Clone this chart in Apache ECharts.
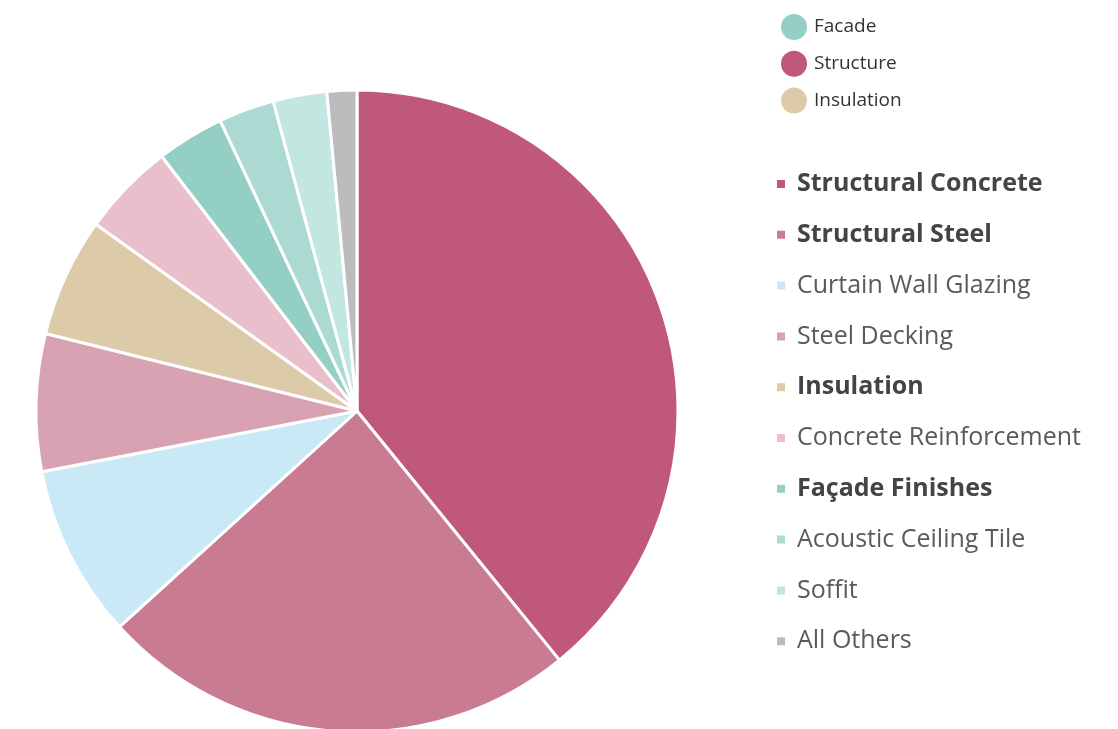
<!DOCTYPE html>
<html>
<head>
<meta charset="utf-8">
<script src="https://cdn.jsdelivr.net/npm/echarts@6/dist/echarts.min.js"></script>
<style>
  html, body { margin: 0; padding: 0; background: #fff; }
  #chart { width: 1118px; height: 729px; }
</style>
</head>
<body>
<div id="chart"></div>
<script>
// Material breakdown (share of total, %)
const materials = [
  'Structural Concrete', 'Structural Steel', 'Curtain Wall Glazing', 'Steel Decking',
  'Insulation', 'Concrete Reinforcement', 'Façade Finishes', 'Acoustic Ceiling Tile',
  'Soffit', 'All Others'
];
const shares = [39.1, 24.1, 8.7, 6.9, 6.0, 4.7, 3.4, 2.8, 2.7, 1.5];
const materialColors = [
  '#c0587a', '#c97b92', '#c9e9f7', '#d9a2b2', '#dccaa8',
  '#e8bfcb', '#94cfc5', '#acdad3', '#c2e6e0', '#bcbcbc'
];
// Headline items are emphasised in the legend
const emphasised = ['Structural Concrete', 'Structural Steel', 'Insulation', 'Façade Finishes'];

// Category groups shown in the upper legend
const groups = ['Facade', 'Structure', 'Insulation '];
const groupLabels = ['Facade', 'Structure', 'Insulation'];
const groupColors = ['#93cfc5', '#c0587a', '#dccaa8'];

const FONT = '"Open Sans", "Noto Sans", sans-serif';

const chart = echarts.init(document.getElementById('chart'), null, { renderer: 'canvas' });

chart.setOption({
  animation: false,
  backgroundColor: '#ffffff',
  legend: [
    {
      orient: 'vertical',
      left: 781,
      top: 14,
      padding: 0,
      icon: 'circle',
      itemWidth: 26,
      itemHeight: 26,
      itemGap: 10.8,
      selectedMode: false,
      data: groups,
      formatter: name => groupLabels[groups.indexOf(name)],
      textStyle: { fontFamily: FONT, fontSize: 19, color: '#333', padding: [0, 0, 0, 2] }
    },
    {
      orient: 'vertical',
      left: 775,
      top: 171,
      padding: 0,
      icon: 'rect',
      itemWidth: 10,
      itemHeight: 10,
      itemGap: 24.8,
      selectedMode: false,
      data: materials.map(name => ({
        name,
        textStyle: emphasised.includes(name)
          ? { fontWeight: 'bold', color: '#444' }
          : { fontWeight: 'normal', color: '#5a5a5a' }
      })),
      textStyle: { fontFamily: FONT, fontSize: 25, lineHeight: 26, padding: [0, 0, 0, 6] }
    }
  ],
  series: [
    {
      type: 'pie',
      center: [357, 411],
      radius: 321,
      startAngle: 90,
      clockwise: true,
      label: { show: false },
      labelLine: { show: false },
      emphasis: { disabled: true },
      itemStyle: { borderColor: '#ffffff', borderWidth: 3 },
      data: materials.map((name, i) => ({
        name,
        value: shares[i],
        itemStyle: { color: materialColors[i] }
      }))
    },
    {
      // group keys only feed the upper legend; zero radius keeps them off the plot
      type: 'pie',
      center: [357, 411],
      radius: 0,
      silent: true,
      label: { show: false },
      labelLine: { show: false },
      data: groups.map((name, i) => ({
        name,
        value: 1,
        itemStyle: { color: groupColors[i] }
      }))
    }
  ]
});
</script>
</body>
</html>
